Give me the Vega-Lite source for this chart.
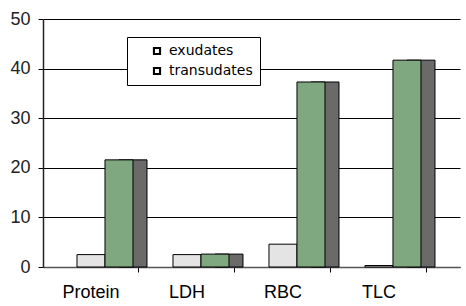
{
  "$schema": "https://vega.github.io/schema/vega-lite/v6.json",
  "width": 417,
  "height": 248,
  "autosize": "none",
  "padding": {"left": 43, "top": 19, "right": 6, "bottom": 39},
  "background": "white",
  "config": {"view": {"stroke": null}, "font": "Liberation Sans"},
  "data": {
    "values": [
      {"test": "Protein", "series": "exudates", "value": 2.5},
      {"test": "Protein", "series": "transudates", "value": 21.6},
      {"test": "LDH", "series": "exudates", "value": 2.5},
      {"test": "LDH", "series": "transudates", "value": 2.6},
      {"test": "RBC", "series": "exudates", "value": 4.6},
      {"test": "RBC", "series": "transudates", "value": 37.3},
      {"test": "TLC", "series": "exudates", "value": 0.3},
      {"test": "TLC", "series": "transudates", "value": 41.7}
    ]
  },
  "encoding": {
    "x": {
      "field": "test",
      "type": "nominal",
      "sort": ["Protein", "LDH", "RBC", "TLC"],
      "scale": {"paddingInner": 0, "paddingOuter": 0.172, "align": 0},
      "axis": {
        "title": null,
        "labelAngle": 0,
        "labelFontSize": 18,
        "labelColor": "black",
        "labelPadding": 11,
        "bandPosition": 1,
        "tickSize": 5,
        "tickColor": "black",
        "domainColor": "#555555",
        "domainWidth": 1.5
      }
    },
    "y": {
      "field": "value",
      "type": "quantitative",
      "scale": {"domain": [0, 50], "nice": false},
      "axis": {
        "title": null,
        "values": [0, 10, 20, 30, 40, 50],
        "grid": true,
        "gridColor": "black",
        "gridOpacity": 1,
        "domainColor": "#222222",
        "domainWidth": 1.5,
        "tickColor": "black",
        "tickSize": 5,
        "labelFontSize": 18,
        "labelColor": "#222222",
        "labelPadding": 8
      }
    }
  },
  "layer": [
    {
      "transform": [{"filter": "datum.series === 'transudates'"}],
      "mark": {"type": "bar", "width": 28, "xOffset": 42, "fill": "#6a6a6a", "stroke": "black", "strokeWidth": 1}
    },
    {
      "mark": {"type": "bar", "stroke": "black", "strokeWidth": 1},
      "encoding": {
        "xOffset": {
          "field": "series",
          "type": "nominal",
          "scale": {"domain": ["exudates", "transudates"], "paddingInner": 0, "paddingOuter": 0.714, "align": 0.85}
        },
        "color": {
          "field": "series",
          "type": "nominal",
          "scale": {"domain": ["exudates", "transudates"], "range": ["#e4e4e4", "#80a880"]},
          "legend": {
            "orient": "none",
            "legendX": 84,
            "legendY": 18,
            "title": null,
            "strokeColor": "black",
            "fillColor": "white",
            "padding": 7,
            "symbolOffset": 16,
            "symbolType": "M-1,-1H1V1H-1Z M-0.75,-0.75V0.75H0.75V-0.75Z",
            "symbolSize": 49,
            "symbolStrokeColor": "black",
            "symbolStrokeWidth": 1.2,
            "labelFont": "DejaVu Sans",
            "labelFontSize": 14,
            "labelColor": "black",
            "labelOffset": 5,
            "rowPadding": 6
          }
        }
      }
    }
  ]
}
